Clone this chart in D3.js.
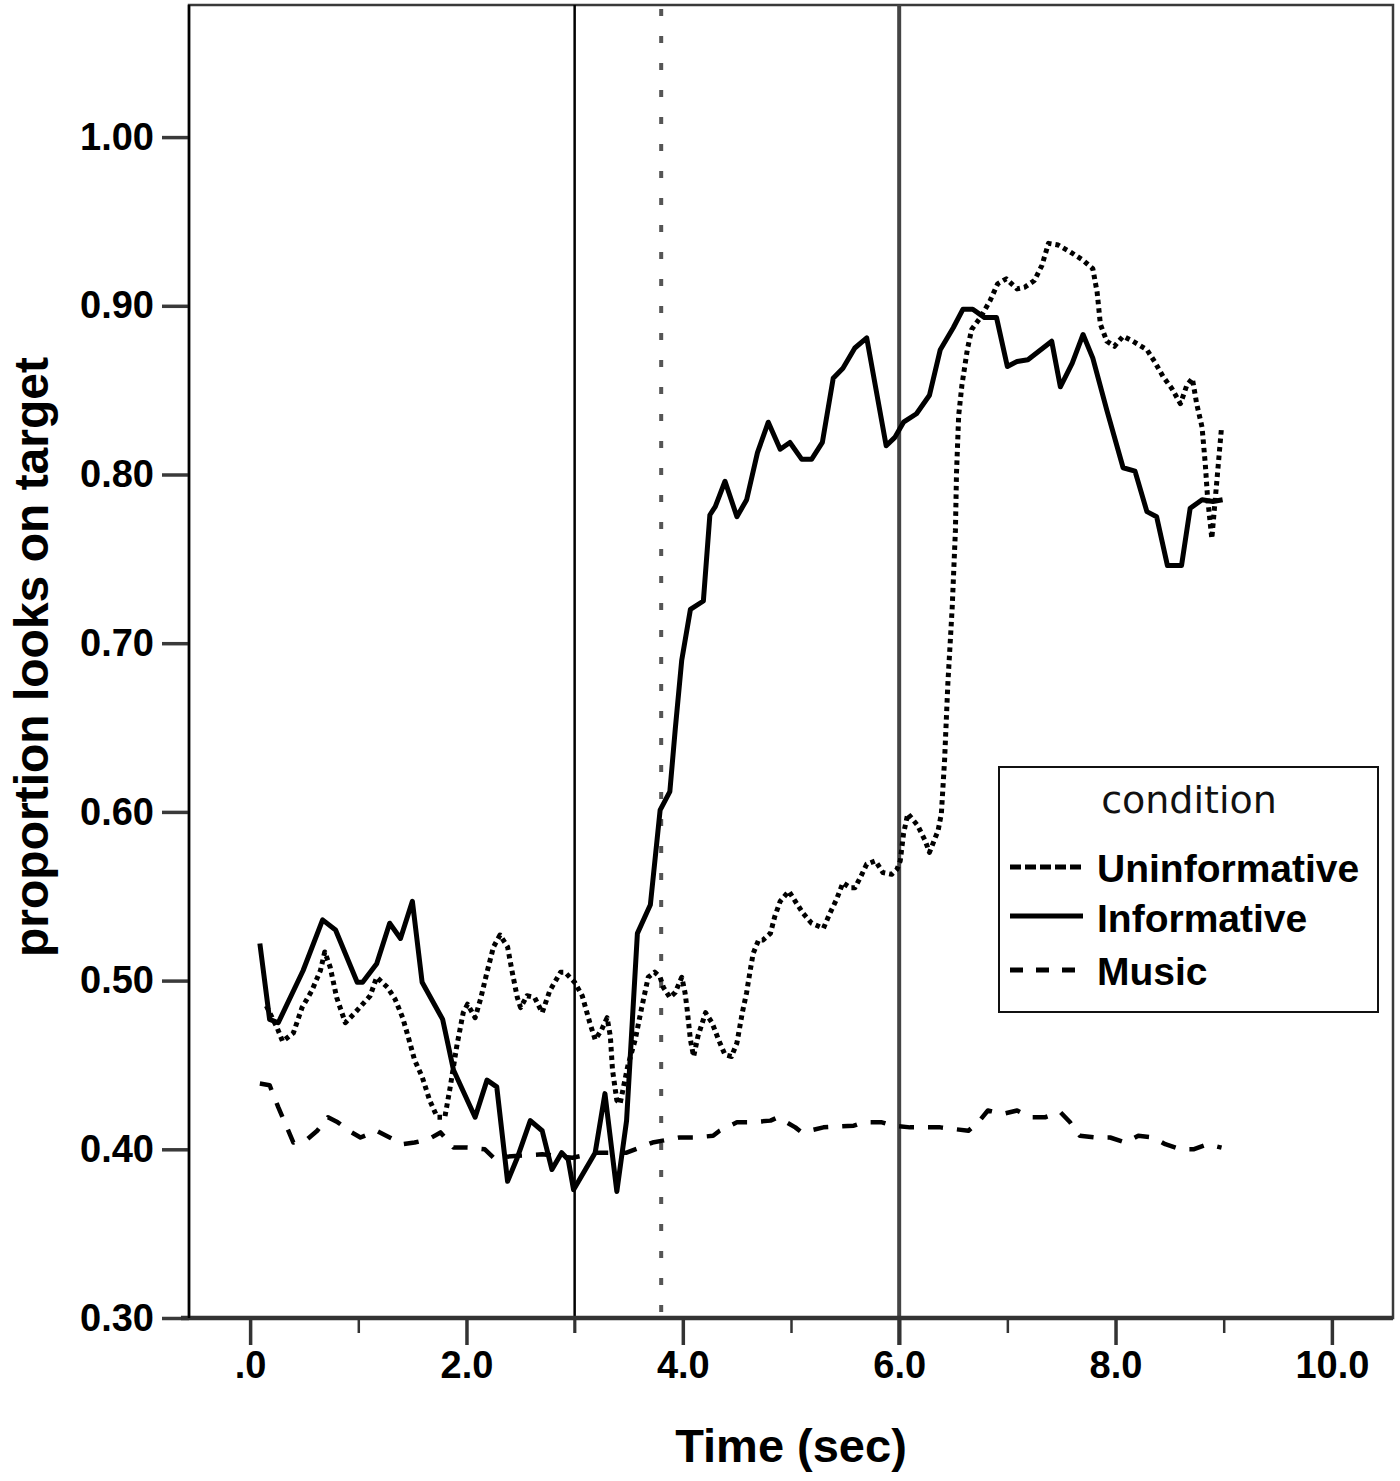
<!DOCTYPE html>
<html>
<head>
<meta charset="utf-8">
<script src="https://cdn.jsdelivr.net/npm/d3@7"></script>
<style>
  html, body { margin: 0; padding: 0; background: #fff; }
  svg { display: block; }
</style>
</head>
<body>
<svg id="chart" width="1400" height="1481"></svg>
<script>
// ---------------- DATA ----------------
const seriesNames = ["Uninformative", "Informative", "Music"];

const uninformativeTime = [0.15,0.25,0.30,0.40,0.48,0.57,0.65,0.69,0.74,0.80,0.88,0.97,1.11,1.17,1.27,1.34,1.41,1.46,1.52,1.59,1.66,1.73,1.80,1.85,1.91,1.97,2.01,2.08,2.13,2.19,2.25,2.31,2.38,2.42,2.47,2.50,2.56,2.63,2.70,2.77,2.87,2.91,3.00,3.07,3.14,3.19,3.25,3.30,3.33,3.35,3.39,3.42,3.49,3.56,3.62,3.68,3.74,3.79,3.82,3.88,3.93,3.99,4.02,4.04,4.07,4.10,4.14,4.21,4.27,4.33,4.39,4.45,4.50,4.55,4.59,4.62,4.65,4.70,4.74,4.81,4.85,4.90,4.98,5.04,5.11,5.19,5.30,5.36,5.42,5.48,5.55,5.59,5.64,5.70,5.78,5.85,5.93,5.98,6.01,6.04,6.08,6.17,6.24,6.28,6.36,6.39,6.42,6.45,6.49,6.52,6.53,6.55,6.58,6.63,6.67,6.75,6.84,6.91,6.99,7.09,7.16,7.25,7.32,7.38,7.47,7.58,7.70,7.79,7.83,7.86,7.92,7.99,8.07,8.16,8.29,8.36,8.44,8.52,8.60,8.66,8.71,8.75,8.80,8.83,8.85,8.89,8.92,8.95,8.98];
const uninformativeValue = [0.485,0.472,0.464,0.469,0.484,0.494,0.506,0.517,0.508,0.490,0.475,0.481,0.491,0.502,0.496,0.489,0.478,0.467,0.453,0.443,0.429,0.419,0.419,0.437,0.461,0.481,0.486,0.478,0.489,0.505,0.520,0.527,0.520,0.506,0.490,0.484,0.491,0.490,0.481,0.494,0.505,0.505,0.499,0.491,0.475,0.465,0.471,0.478,0.467,0.447,0.429,0.427,0.449,0.465,0.484,0.502,0.505,0.502,0.496,0.490,0.493,0.502,0.493,0.483,0.465,0.455,0.467,0.481,0.475,0.465,0.456,0.455,0.463,0.481,0.493,0.505,0.516,0.524,0.524,0.528,0.538,0.547,0.553,0.547,0.540,0.534,0.531,0.540,0.548,0.558,0.555,0.555,0.561,0.569,0.571,0.564,0.563,0.566,0.571,0.587,0.599,0.592,0.583,0.576,0.589,0.599,0.631,0.676,0.721,0.767,0.801,0.835,0.853,0.874,0.886,0.893,0.903,0.913,0.916,0.910,0.911,0.915,0.924,0.937,0.936,0.932,0.927,0.922,0.908,0.889,0.879,0.876,0.882,0.879,0.874,0.867,0.858,0.851,0.842,0.853,0.857,0.842,0.828,0.806,0.787,0.762,0.784,0.806,0.828];

const informativeTime = [0.09,0.18,0.26,0.49,0.67,0.79,0.99,1.04,1.17,1.29,1.39,1.50,1.59,1.78,1.88,2.08,2.19,2.28,2.38,2.47,2.59,2.70,2.79,2.88,2.94,2.99,3.19,3.28,3.39,3.48,3.58,3.70,3.79,3.88,3.93,3.99,4.07,4.19,4.25,4.30,4.39,4.50,4.59,4.69,4.79,4.90,4.99,5.10,5.19,5.29,5.39,5.48,5.59,5.70,5.88,5.96,6.04,6.16,6.28,6.38,6.50,6.59,6.68,6.79,6.90,7.00,7.09,7.19,7.41,7.49,7.60,7.70,7.79,7.92,8.07,8.18,8.29,8.38,8.48,8.61,8.69,8.80,8.90,8.99];
const informativeValue = [0.522,0.477,0.475,0.506,0.536,0.530,0.499,0.499,0.510,0.534,0.525,0.547,0.499,0.477,0.447,0.419,0.441,0.437,0.381,0.395,0.417,0.411,0.388,0.398,0.394,0.376,0.398,0.433,0.375,0.417,0.528,0.545,0.601,0.612,0.649,0.690,0.720,0.725,0.776,0.781,0.796,0.775,0.785,0.813,0.831,0.815,0.819,0.809,0.809,0.819,0.857,0.863,0.875,0.881,0.817,0.822,0.831,0.836,0.847,0.874,0.887,0.898,0.898,0.893,0.893,0.864,0.867,0.868,0.879,0.852,0.866,0.883,0.869,0.838,0.804,0.802,0.778,0.775,0.746,0.746,0.780,0.785,0.784,0.785];

const musicTime = [0.09,0.18,0.26,0.40,0.53,0.62,0.72,0.81,0.94,1.02,1.17,1.29,1.41,1.52,1.65,1.76,1.88,2.01,2.17,2.25,2.45,2.70,2.98,3.20,3.48,3.72,3.97,4.11,4.28,4.34,4.50,4.62,4.81,4.88,5.04,5.10,5.30,5.58,5.67,5.84,5.94,6.10,6.38,6.64,6.73,6.82,6.96,7.09,7.21,7.35,7.49,7.58,7.67,7.81,7.95,8.09,8.21,8.35,8.46,8.60,8.72,8.85,8.98];
const musicValue = [0.439,0.438,0.425,0.404,0.406,0.411,0.419,0.416,0.410,0.407,0.411,0.407,0.403,0.404,0.406,0.410,0.401,0.401,0.400,0.395,0.396,0.397,0.395,0.398,0.398,0.404,0.407,0.407,0.408,0.411,0.416,0.416,0.417,0.419,0.413,0.410,0.413,0.414,0.416,0.416,0.414,0.413,0.413,0.411,0.416,0.423,0.421,0.423,0.419,0.419,0.422,0.416,0.408,0.407,0.407,0.404,0.408,0.407,0.403,0.400,0.400,0.403,0.401];

const xMajorTicks = [0, 2, 4, 6, 8, 10];
const xMajorLabels = [".0", "2.0", "4.0", "6.0", "8.0", "10.0"];
const xMinorTicks = [1, 3, 5, 7, 9];
const yTicks = [0.30, 0.40, 0.50, 0.60, 0.70, 0.80, 0.90, 1.00];
const yTickLabels = ["0.30", "0.40", "0.50", "0.60", "0.70", "0.80", "0.90", "1.00"];
const referenceLines = [3.0, 3.8, 6.0];

const xTitle = "Time (sec)";
const yTitle = "proportion looks on target";
const legendTitle = "condition";

// ---------------- LAYOUT ----------------
const svg = d3.select("#chart");
const L = 189, R = 1393, T = 5, B = 1318;
const x = d3.scaleLinear().domain([-0.565, 10.565]).range([L, R]);
const y = d3.scaleLinear().domain([0.30, 0.30 + (B - T) / 1687]).range([B, T]);

const FONT = "'Liberation Sans', Arial, Helvetica, sans-serif";

// frame
svg.append("rect").attr("x", L).attr("y", T).attr("width", R - L).attr("height", B - T)
  .attr("fill", "none").attr("stroke", "#3a3a3a").attr("stroke-width", 2.5);

// reference lines
const refStyles = {
  "3": { stroke: "#000", width: 2.5, dash: null, bottom: B + 15 },
  "3.8": { stroke: "#555", width: 4, dash: "7,20", bottom: B },
  "6": { stroke: "#444", width: 4, dash: null, bottom: B + 27 }
};
referenceLines.forEach(v => {
  const s = refStyles[String(v)];
  const ln = svg.append("line")
    .attr("x1", x(v)).attr("x2", x(v))
    .attr("y1", v === 3.8 ? T + 4 : T).attr("y2", s.bottom)
    .attr("stroke", s.stroke).attr("stroke-width", s.width);
  if (s.dash) ln.attr("stroke-dasharray", s.dash);
});

// x axis
const xAxis = d3.axisBottom(x).tickValues(xMajorTicks)
  .tickFormat((d, i) => xMajorLabels[i]).tickSize(27).tickPadding(6);
const gx = svg.append("g").attr("transform", `translate(0,${B})`).call(xAxis);
gx.select(".domain").remove();
gx.selectAll(".tick line").attr("stroke", "#333").attr("stroke-width", 3.5);
gx.selectAll(".tick text").attr("font-family", FONT).attr("font-weight", "bold")
  .attr("font-size", 38).attr("fill", "#000");

const xMinor = d3.axisBottom(x).tickValues(xMinorTicks).tickFormat("").tickSize(15);
const gxm = svg.append("g").attr("transform", `translate(0,${B})`).call(xMinor);
gxm.select(".domain").remove();
gxm.selectAll(".tick line").attr("stroke", "#333").attr("stroke-width", 2.5);

// y axis
const yAxis = d3.axisLeft(y).tickValues(yTicks)
  .tickFormat((d, i) => yTickLabels[i]).tickSize(27).tickPadding(8);
const gy = svg.append("g").attr("transform", `translate(${L},0)`).call(yAxis);
gy.select(".domain").remove();
gy.selectAll(".tick line").attr("stroke", "#3a3a3a").attr("stroke-width", 3.5);
gy.selectAll(".tick text").attr("font-family", FONT).attr("font-weight", "bold")
  .attr("font-size", 38).attr("fill", "#000");

// axis lines
svg.append("line").attr("x1", L - 8).attr("x2", R).attr("y1", B).attr("y2", B)
  .attr("stroke", "#333").attr("stroke-width", 4.5);
svg.append("line").attr("x1", L).attr("x2", L).attr("y1", T).attr("y2", B)
  .attr("stroke", "#000").attr("stroke-width", 2.5);

// series
const line = d3.line().x(d => x(d[0])).y(d => y(d[1]));
const series = [
  { name: "Uninformative", t: uninformativeTime, v: uninformativeValue, dash: "4.5,4", width: 5 },
  { name: "Informative", t: informativeTime, v: informativeValue, dash: null, width: 5 },
  { name: "Music", t: musicTime, v: musicValue, dash: "15,14", width: 4.5 }
];
series.forEach(s => {
  const pts = s.t.map((t, i) => [t, s.v[i]]);
  const p = svg.append("path").datum(pts).attr("d", line)
    .attr("fill", "none").attr("stroke", "#000").attr("stroke-width", s.width)
    .attr("stroke-linejoin", "round");
  if (s.dash) p.attr("stroke-dasharray", s.dash);
});

// titles
svg.append("text").attr("x", 791).attr("y", 1462).attr("text-anchor", "middle")
  .attr("font-family", FONT).attr("font-weight", "bold").attr("font-size", 47)
  .text(xTitle);
svg.append("text").attr("transform", "translate(48,657) rotate(-90)")
  .attr("text-anchor", "middle")
  .attr("font-family", FONT).attr("font-weight", "bold").attr("font-size", 48)
  .text(yTitle);

// legend
const lg = svg.append("g");
lg.append("rect").attr("x", 999).attr("y", 767).attr("width", 379).attr("height", 245)
  .attr("fill", "#fff").attr("stroke", "#111").attr("stroke-width", 2);
lg.append("text").attr("x", 1189).attr("y", 813).attr("text-anchor", "middle")
  .attr("font-family", "'DejaVu Sans', Verdana, sans-serif").attr("font-size", 38)
  .attr("fill", "#111").text(legendTitle);
const legendRows = [
  { y: 867, ty: 882, dash: "11,4", w: 5 },
  { y: 916, ty: 932, dash: null, w: 5 },
  { y: 970, ty: 985, dash: "13,13", w: 5 }
];
seriesNames.forEach((nm, i) => {
  const r = legendRows[i];
  const l = lg.append("line").attr("x1", 1010).attr("x2", 1083).attr("y1", r.y).attr("y2", r.y)
    .attr("stroke", "#000").attr("stroke-width", r.w);
  if (r.dash) l.attr("stroke-dasharray", r.dash);
  lg.append("text").attr("x", 1097).attr("y", r.ty)
    .attr("font-family", FONT).attr("font-weight", "bold").attr("font-size", 39)
    .text(nm);
});
</script>
</body>
</html>
